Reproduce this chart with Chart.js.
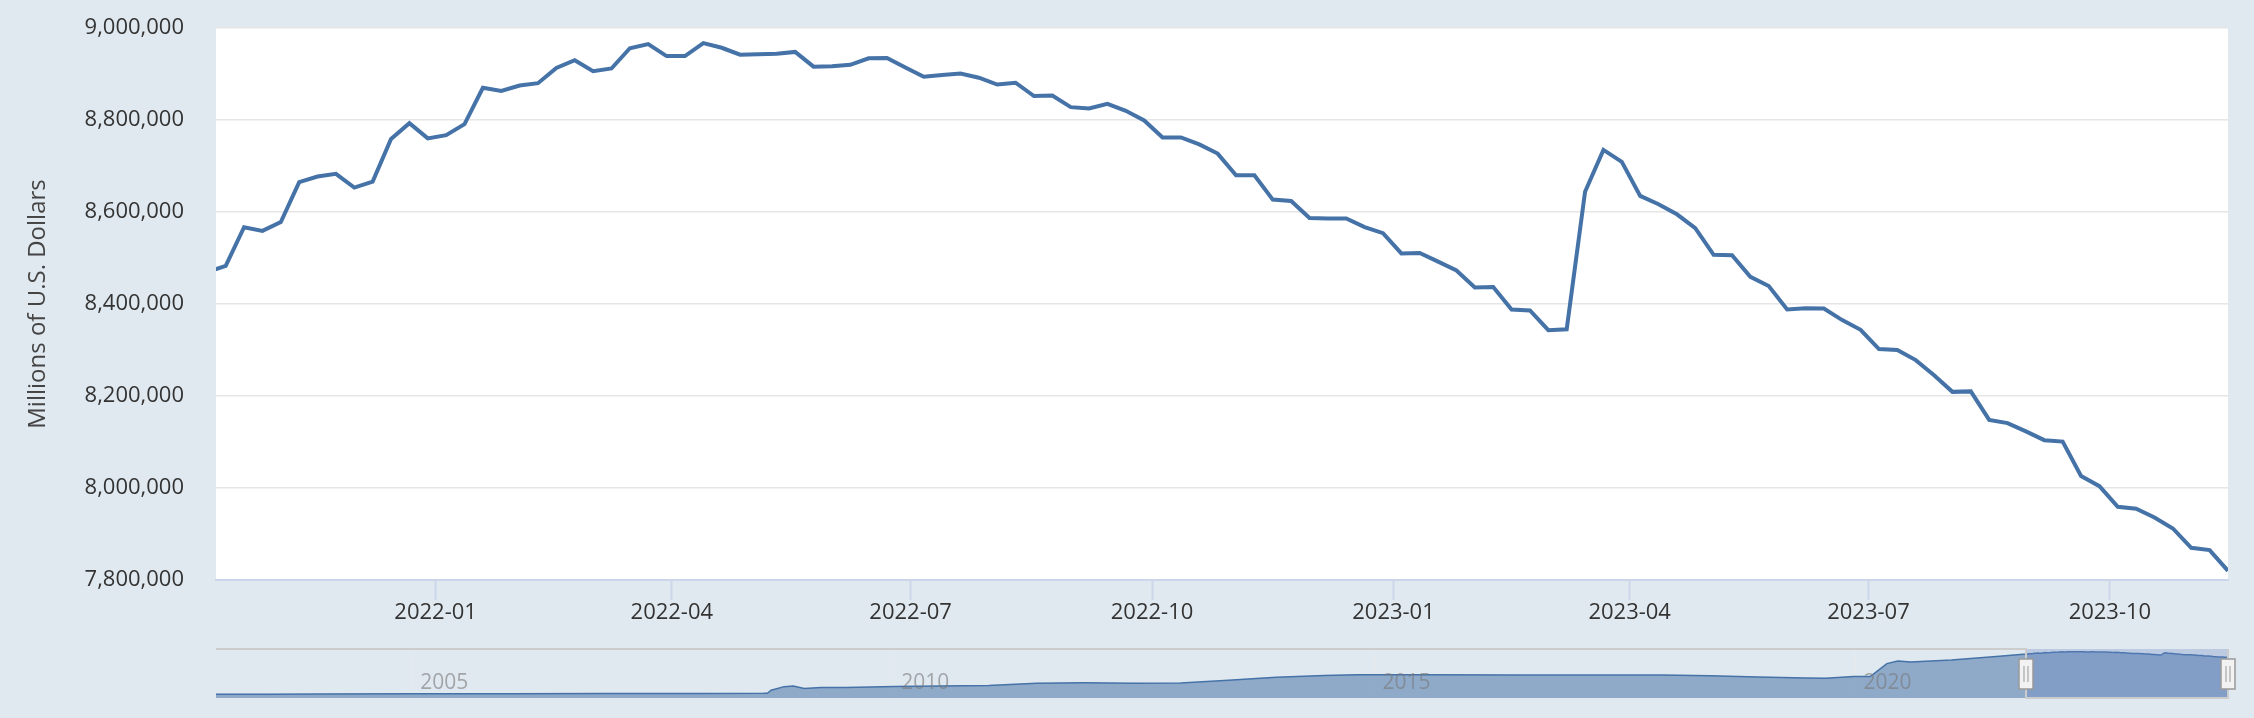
<!DOCTYPE html>
<html>
<head>
<meta charset="utf-8">
<script src="https://cdn.jsdelivr.net/npm/chart.js@4.4.0/dist/chart.umd.min.js"></script>
<style>
  html, body { margin: 0; padding: 0; background: #e1e9f0; }
  #wrap { position: relative; width: 2254px; height: 718px; background: #e1e9f0; }
  #mainChart { position: absolute; left: 0; top: 0; }
  #navChart { position: absolute; left: 0; top: 640px; }
</style>
</head>
<body>
<div id="wrap">
  <canvas id="mainChart" width="2254" height="640"></canvas>
  <canvas id="navChart" width="2254" height="78"></canvas>
</div>
<script>
// weekly total assets (millions of U.S. dollars), every Wednesday from firstWeek
const firstWeek = '2021-10-06';
const assets = [
  8469000, 8483000, 8567000, 8559000, 8578000, 8665000, 8677000, 8683000, 8653000, 8666000,
  8759000, 8793000, 8760000, 8767000, 8791000, 8870000, 8863000, 8875000, 8880000, 8913000,
  8930000, 8906000, 8912000, 8956000, 8965000, 8939000, 8939000, 8967000, 8957000, 8942000,
  8943000, 8944000, 8948000, 8916000, 8917000, 8920000, 8934000, 8935000, 8914000, 8894000,
  8898000, 8901000, 8892000, 8877000, 8881000, 8852000, 8853000, 8828000, 8825000, 8835000,
  8820000, 8799000, 8762000, 8762000, 8747000, 8727000, 8680000, 8680000, 8627000, 8624000,
  8587000, 8586000, 8586000, 8567000, 8554000, 8510000, 8511000, 8492000, 8473000, 8436000,
  8437000, 8388000, 8386000, 8343000, 8345000, 8644000, 8735000, 8709000, 8635000, 8617000,
  8595000, 8565000, 8507000, 8506000, 8459000, 8439000, 8388000, 8391000, 8390000, 8365000,
  8344000, 8302000, 8300000, 8278000, 8245000, 8209000, 8210000, 8148000, 8141000, 8123000,
  8104000, 8101000, 8026000, 8004000, 7959000, 7955000, 7936000, 7912000, 7870000, 7865000,
  7820000
];

// longer history shown in the navigator strip (before firstWeek)
const historyDates = [
  '2002-12-18', '2003-06-25', '2004-01-07', '2005-01-05', '2006-01-04', '2007-01-03',
  '2007-12-26', '2008-08-27', '2008-09-10', '2008-09-24', '2008-10-15', '2008-11-12',
  '2008-12-17', '2009-01-28', '2009-04-01', '2009-07-01', '2009-10-07', '2010-01-06',
  '2010-06-30', '2010-12-29', '2011-06-29', '2011-12-28', '2012-06-27', '2012-12-26',
  '2013-06-26', '2013-12-25', '2014-06-25', '2014-10-29', '2015-06-24', '2016-06-29',
  '2017-06-28', '2017-12-27', '2018-06-27', '2018-12-26', '2019-06-26', '2019-09-11',
  '2019-12-25', '2020-02-26', '2020-03-25', '2020-04-29', '2020-06-10', '2020-07-29',
  '2020-12-30', '2021-06-30', '2021-09-29'
];
const historyValues = [
  720000, 730000, 760000, 800000, 840000, 870000,
  890000, 905000, 925000, 1500000, 1800000, 2200000,
  2310000, 1850000, 2050000, 2050000, 2150000, 2240000,
  2330000, 2420000, 2870000, 2930000, 2870000, 2910000,
  3450000, 4010000, 4370000, 4480000, 4480000, 4460000,
  4460000, 4440000, 4320000, 4080000, 3850000, 3800000,
  4170000, 4160000, 5250000, 6650000, 7170000, 6960000,
  7360000, 8060000, 8450000
];

const xTickLabels = ['2022-01', '2022-04', '2022-07', '2022-10', '2023-01', '2023-04', '2023-07', '2023-10'];
const navTickLabels = ['2005', '2010', '2015', '2020'];
const yMin = 7800000, yMax = 9000000, yStep = 200000;

function day(s) {
  let p = s.split('-').map(Number);
  return Date.UTC(p[0], p[1] - 1, p[2] || 1) / 86400000;
}

let weekDays = assets.map((v, i) => day(firstWeek) + 7 * i);
let viewStart = day('2021-10-09') + 0.3;
let viewEnd = weekDays[weekDays.length - 1];

let mainPoints = assets.map((v, i) => ({x: weekDays[i], y: v}));
let navPoints = historyValues.map((v, i) => ({x: day(historyDates[i]), y: v})).concat(mainPoints);

let fontFamily = '"Open Sans", "Noto Sans", sans-serif';
let font = {family: fontFamily, size: 22};

const plotBg = {
  id: 'plotBg',
  beforeDraw(chart) {
    let a = chart.chartArea, ctx = chart.ctx;
    ctx.save();
    ctx.fillStyle = '#ffffff';
    ctx.fillRect(a.left, a.top, a.right - a.left, a.bottom - a.top);
    ctx.restore();
  }
};

const navMask = {
  id: 'navMask',
  afterDraw(chart) {
    let a = chart.chartArea, ctx = chart.ctx, x = chart.scales.x;
    ctx.save();
    // year labels inside the navigator
    ctx.font = '21px ' + fontFamily;
    ctx.fillStyle = 'rgba(120,120,120,0.6)';
    ctx.textBaseline = 'middle';
    ctx.textAlign = 'left';
    navTickLabels.forEach(t => {
      ctx.fillText(t, x.getPixelForValue(day(t + '-01-01')) + 8, a.top + 34);
    });
    let x0 = x.getPixelForValue(viewStart), x1 = x.getPixelForValue(viewEnd);
    ctx.fillStyle = 'rgba(102,133,194,0.3)';
    ctx.fillRect(x0, a.top, x1 - x0, a.bottom - a.top);
    ctx.strokeStyle = '#cccccc';
    ctx.lineWidth = 2;
    ctx.beginPath();
    ctx.moveTo(a.left, a.top);
    ctx.lineTo(x0, a.top);
    ctx.lineTo(x0, a.bottom);
    ctx.lineTo(x1, a.bottom);
    ctx.lineTo(x1, a.top);
    ctx.stroke();
    [x0, x1].forEach(hx => {
      ctx.fillStyle = '#f2f2f2';
      ctx.strokeStyle = '#999999';
      ctx.lineWidth = 1.5;
      ctx.fillRect(hx - 7, a.top + 10, 14, 30);
      ctx.strokeRect(hx - 7, a.top + 10, 14, 30);
      ctx.beginPath();
      ctx.moveTo(hx - 2, a.top + 17); ctx.lineTo(hx - 2, a.top + 33);
      ctx.moveTo(hx + 2, a.top + 17); ctx.lineTo(hx + 2, a.top + 33);
      ctx.lineWidth = 1;
      ctx.stroke();
    });
    ctx.restore();
  }
};

let mainChart = new Chart(document.getElementById('mainChart').getContext('2d'), {
  type: 'line',
  data: {
    datasets: [{
      data: mainPoints,
      borderColor: '#4572a7',
      borderWidth: 4,
      pointRadius: 0,
      tension: 0,
      fill: false
    }]
  },
  options: {
    responsive: false,
    animation: false,
    devicePixelRatio: 1,
    layout: {padding: {left: 0, right: 26, top: 28, bottom: 15}},
    plugins: {legend: {display: false}, tooltip: {enabled: false}},
    scales: {
      x: {
        type: 'linear',
        min: viewStart,
        max: viewEnd,
        afterBuildTicks: s => { s.ticks = xTickLabels.map(t => ({value: day(t)})); },
        afterFit: s => { s.height = 45; },
        grid: {drawOnChartArea: false, drawTicks: true, tickLength: 20, tickColor: '#ccd6eb', tickWidth: 2},
        border: {color: '#ccd6eb', width: 2},
        ticks: {
          padding: 0, maxRotation: 0, autoSkip: false, color: '#333333', font: font,
          callback: (v, i) => xTickLabels[i]
        }
      },
      y: {
        min: yMin,
        max: yMax,
        afterFit: s => { s.width = 216; s.paddingTop = 0; s.paddingBottom = 0; },
        grid: {color: '#e6e6e6', lineWidth: 1.5, drawTicks: false},
        border: {display: false},
        ticks: {
          stepSize: yStep, padding: 32, color: '#333333', font: font,
          callback: v => v.toLocaleString('en-US')
        },
        title: {
          display: true,
          text: 'Millions of U.S. Dollars',
          color: '#444444',
          font: {family: fontFamily, size: 24},
          padding: {top: 24, bottom: 0}
        }
      }
    }
  },
  plugins: [plotBg]
});

let navChart = new Chart(document.getElementById('navChart').getContext('2d'), {
  type: 'line',
  data: {
    datasets: [{
      data: navPoints,
      borderColor: '#4572a7',
      borderWidth: 1.5,
      backgroundColor: 'rgba(69,114,167,0.53)',
      fill: 'origin',
      pointRadius: 0,
      tension: 0
    }]
  },
  options: {
    responsive: false,
    animation: false,
    devicePixelRatio: 1,
    layout: {padding: {left: 216, right: 26, top: 9, bottom: 0}},
    plugins: {legend: {display: false}, tooltip: {enabled: false}},
    scales: {
      x: {
        type: 'linear',
        z: 1,
        min: day(historyDates[0]),
        max: viewEnd,
        afterBuildTicks: s => { s.ticks = navTickLabels.map(t => ({value: day(t + '-01-01')})); },
        afterFit: s => { s.height = 20; },
        grid: {color: 'rgba(235,235,235,0.6)', lineWidth: 1, drawTicks: false},
        border: {display: false},
        ticks: {display: false}
      },
      y: {display: false, min: 0, max: 9480000}
    }
  },
  plugins: [navMask]
});
</script>
</body>
</html>
